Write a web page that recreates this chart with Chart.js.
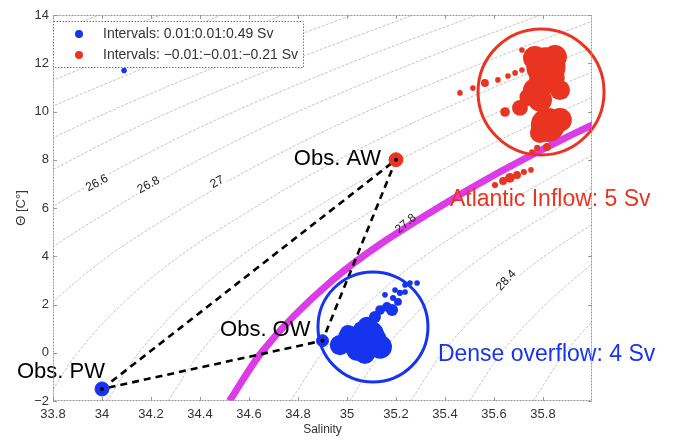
<!DOCTYPE html>
<html>
<head>
<meta charset="utf-8">
<script src="https://cdn.jsdelivr.net/npm/chart.js@4.4.0/dist/chart.umd.min.js"></script>
<style>
  body { margin: 0; background: #fff; }
  #wrap { width: 680px; height: 440px; }
</style>
</head>
<body>
<div id="wrap"><canvas id="tsChart"></canvas></div>
<script>
// axis ticks
const salTicks = [33.8, 34, 34.2, 34.4, 34.6, 34.8, 35, 35.2, 35.4, 35.6, 35.8];
const tempTicks = [-2, 0, 2, 4, 6, 8, 10, 12, 14];

// isopycnals (sigma-theta), salinity read at each temperature
const isoTemps = [-2, 0, 3, 6, 9, 12, 14];
const isoLevels = [25.4, 25.6, 25.8, 26.0, 26.2, 26.4, 26.6, 26.8, 27.0, 27.2, 27.4, 27.6, 27.8, 28.0, 28.2, 28.4, 28.6, 28.8];
const isoSal = [
  [31.40, 31.53, 31.82, 32.25, 32.79, 33.47, 33.99],
  [31.65, 31.78, 32.07, 32.50, 33.04, 33.72, 34.24],
  [31.90, 32.03, 32.32, 32.75, 33.29, 33.97, 34.49],
  [32.15, 32.28, 32.57, 33.00, 33.54, 34.22, 34.74],
  [32.43, 32.56, 32.85, 33.28, 33.82, 34.50, 35.02],
  [32.68, 32.81, 33.10, 33.53, 34.07, 34.75, 35.27],
  [32.94, 33.07, 33.36, 33.79, 34.33, 35.01, 35.53],
  [33.20, 33.33, 33.62, 34.05, 34.59, 35.27, 35.79],
  [33.48, 33.61, 33.90, 34.33, 34.87, 35.55, 36.07],
  [33.77, 33.90, 34.19, 34.62, 35.16, 35.84, 36.36],
  [34.02, 34.15, 34.44, 34.87, 35.41, 36.09, 36.61],
  [34.27, 34.40, 34.69, 35.12, 35.66, 36.34, 36.86],
  [34.52, 34.65, 34.94, 35.37, 35.91, 36.59, 37.11],
  [34.77, 34.90, 35.19, 35.62, 36.16, 36.84, 37.36],
  [35.01, 35.14, 35.43, 35.86, 36.40, 37.08, 37.60],
  [35.26, 35.39, 35.68, 36.11, 36.65, 37.33, 37.85],
  [35.50, 35.63, 35.92, 36.35, 36.89, 37.57, 38.09],
  [35.76, 35.89, 36.18, 36.61, 37.15, 37.83, 38.35]
];
const highlightLevel = 27.8;

// labelled contours
const isoLabelText = ["26.6", "26.8", "27", "27.8", "28.4"];
const isoLabelSal = [33.98, 34.19, 34.47, 35.24, 35.65];
const isoLabelTemp = [7.03, 6.95, 7.07, 5.35, 3.0];

// observed end members
const obsNames = ["Obs. PW", "Obs. OW", "Obs. AW"];
const obsSal = [34.0, 34.9, 35.2];
const obsTemp = [-1.5, 0.5, 8.0];

// positive transports (dense overflow)
const blueSal = [34.971, 35.061, 35.041, 35.135, 35.082, 35.004, 35.114, 35.135, 35.163, 35.184, 35.208,
  35.188, 35.216, 35.237, 35.257, 35.286, 35.155, 35.196, 35.237, 35.102, 35.053, 34.09,
  35.012, 35.094, 35.073, 35.110];
const blueTemp = [0.32, 0.41, 0.12, 0.24, 1.07, 0.82, 1.48, 1.77, 1.90, 1.77, 2.11,
  2.27, 2.48, 2.52, 2.89, 2.89, 2.40, 2.60, 2.81, 1.28, 1.03, 11.7,
  0.62, 0.75, -0.05, 0.55];
const blueSv = [0.13, 0.41, 0.15, 0.18, 0.13, 0.08, 0.046, 0.03, 0.03, 0.046, 0.02,
  0.012, 0.012, 0.01, 0.01, 0.01, 0.01, 0.01, 0.01, 0.03, 0.05, 0.01,
  0.18, 0.25, 0.13, 0.2];

// negative transports (Atlantic inflow)
const redSal = [35.812, 35.849, 35.767, 35.788, 35.706, 35.645, 35.869, 35.767, 35.820, 35.869, 35.788,
  35.461, 35.514, 35.563, 35.616, 35.657, 35.686, 35.714, 35.714,
  35.776, 35.816, 35.755,
  35.604, 35.637, 35.665, 35.694, 35.722, 35.751,
  35.800, 35.840, 35.740];
const redTemp = [11.85, 12.26, 12.22, 10.48, 10.15, 9.98, 10.89, 10.89, 9.44, 9.65, 9.11,
  10.77, 10.97, 11.18, 11.31, 11.47, 11.60, 11.72, 12.55,
  8.49, 8.53, 8.32,
  6.95, 7.12, 7.25, 7.37, 7.49, 7.58,
  11.25, 11.40, 10.60];
const redSv = [-0.49, -0.18, -0.18, -0.18, -0.08, -0.03, -0.13, -0.18, -0.37, -0.18, -0.13,
  -0.01, -0.01, -0.02, -0.01, -0.01, -0.01, -0.01, -0.01,
  -0.012, -0.02, -0.01,
  -0.012, -0.02, -0.03, -0.02, -0.012, -0.01,
  -0.25, -0.18, -0.1];

// water mass rings (centres)
const overflowRing = [35.106, 1.07];
const inflowRing = [35.792, 10.81];

const BLUE = "#1634f0";
const RED = "#ea3422";
const MAGENTA = "#dc3ce6";
const FONT = "'Liberation Sans', Arial, sans-serif";

const toPts = (xs, ys) => xs.map((v, i) => ({ x: v, y: ys[i] }));
const svRadius = (v) => 28 * Math.sqrt(Math.abs(v));

const datasets = [];

// observation markers on top
datasets.push({
  data: toPts(obsSal, obsTemp),
  pointRadius: [7, 6, 7],
  pointBackgroundColor: [BLUE, BLUE, RED],
  pointBorderColor: [BLUE, BLUE, RED],
  order: 1
});
datasets.push({
  data: toPts(obsSal, obsTemp),
  pointRadius: 2,
  pointBackgroundColor: "#000",
  pointBorderWidth: 0,
  order: 0
});

// rings
datasets.push({
  data: [{ x: overflowRing[0], y: overflowRing[1] }],
  pointRadius: 55,
  pointBackgroundColor: "rgba(0,0,0,0)",
  pointBorderColor: BLUE,
  pointBorderWidth: 3,
  clip: false,
  order: 3
});
datasets.push({
  data: [{ x: inflowRing[0], y: inflowRing[1] }],
  pointRadius: 63,
  pointBackgroundColor: "rgba(0,0,0,0)",
  pointBorderColor: RED,
  pointBorderWidth: 3,
  clip: false,
  order: 3
});

// transport clusters
datasets.push({
  data: toPts(blueSal, blueTemp),
  pointRadius: blueSv.map(svRadius),
  pointBackgroundColor: BLUE,
  pointBorderWidth: 0,
  order: 4
});
datasets.push({
  data: toPts(redSal, redTemp),
  pointRadius: redSv.map(svRadius),
  pointBackgroundColor: RED,
  pointBorderWidth: 0,
  clip: false,
  order: 4
});

// mixing triangle
const triIdx = [0, 2, 1, 0];
datasets.push({
  data: triIdx.map(i => ({ x: obsSal[i], y: obsTemp[i] })),
  showLine: true,
  borderColor: "#000",
  borderWidth: 2.6,
  borderDash: [7, 5],
  pointRadius: 0,
  order: 6
});

// isopycnals
isoLevels.forEach((lev, k) => {
  const hl = lev === highlightLevel;
  datasets.push({
    data: toPts(isoSal[k], isoTemps),
    showLine: true,
    borderColor: hl ? MAGENTA : "rgba(150,150,150,0.8)",
    borderWidth: hl ? 7 : 0.7,
    borderDash: hl ? [] : [3, 1.5],
    cubicInterpolationMode: "monotone",
    pointRadius: 0,
    order: hl ? 8 : 10
  });
});

function dataXY(chart, s, t) {
  return [chart.scales.x.getPixelForValue(s), chart.scales.y.getPixelForValue(t)];
}

const overlay = {
  id: "overlay",
  afterDatasetsDraw(chart) {
    const ctx = chart.ctx;
    ctx.save();

    // contour labels
    const angles = [-28, -28, -28, -40, -47];
    ctx.font = "12px " + FONT;
    ctx.textAlign = "center";
    ctx.textBaseline = "middle";
    isoLabelText.forEach((txt, i) => {
      const [px, py] = dataXY(chart, isoLabelSal[i], isoLabelTemp[i]);
      ctx.save();
      ctx.translate(px, py);
      ctx.rotate(angles[i] * Math.PI / 180);
      if (txt !== "27.8") {
        const w = ctx.measureText(txt).width;
        ctx.fillStyle = "#fff";
        ctx.fillRect(-w / 2 - 2, -6, w + 4, 12);
      }
      ctx.fillStyle = "#222";
      ctx.fillText(txt, 0, 0);
      ctx.restore();
    });

    // observation labels
    ctx.font = "22px " + FONT;
    ctx.fillStyle = "#000";
    ctx.textAlign = "right";
    const offs = [[3, -17], [-12, -11], [-15, -1]];
    obsNames.forEach((name, i) => {
      const [px, py] = dataXY(chart, obsSal[i], obsTemp[i]);
      ctx.fillText(name, px + offs[i][0], py + offs[i][1]);
    });

    // water mass annotations
    ctx.font = "23px " + FONT;
    ctx.textAlign = "left";
    let [ax, ay] = dataXY(chart, 35.42, 6.33);
    ctx.fillStyle = RED;
    ctx.fillText("Atlantic Inflow: 5 Sv", ax, ay);
    [ax, ay] = dataXY(chart, 35.371, -0.09);
    ctx.fillStyle = BLUE;
    ctx.fillText("Dense overflow: 4 Sv", ax, ay);
    ctx.restore();
  },
  afterDraw(chart) {
    const ctx = chart.ctx;
    const a = chart.chartArea;
    ctx.save();
    // axes box with inward ticks
    ctx.strokeStyle = "#999";
    ctx.lineWidth = 1;
    ctx.setLineDash([2, 1]);
    ctx.strokeRect(a.left + 0.5, a.top + 0.5, a.right - a.left - 1, a.bottom - a.top - 1);
    ctx.setLineDash([]);
    ctx.beginPath();
    salTicks.forEach(v => {
      const px = Math.round(chart.scales.x.getPixelForValue(v)) + 0.5;
      ctx.moveTo(px, a.bottom); ctx.lineTo(px, a.bottom - 4);
      ctx.moveTo(px, a.top); ctx.lineTo(px, a.top + 4);
    });
    tempTicks.forEach(v => {
      const py = Math.round(chart.scales.y.getPixelForValue(v)) + 0.5;
      ctx.moveTo(a.left, py); ctx.lineTo(a.left + 4, py);
      ctx.moveTo(a.right, py); ctx.lineTo(a.right - 4, py);
    });
    ctx.stroke();

    // legend
    const lx = a.left, ly = 21, lw = 250, lh = 46;
    ctx.fillStyle = "#fff";
    ctx.fillRect(lx, ly, lw, lh);
    ctx.setLineDash([1.5, 1.5]);
    ctx.strokeStyle = "#777";
    ctx.strokeRect(lx + 0.5, ly + 0.5, lw, lh);
    ctx.setLineDash([]);
    const items = [
      [BLUE, "Intervals: 0.01:0.01:0.49 Sv"],
      [RED, "Intervals: \u22120.01:\u22120.01:\u22120.21 Sv"]
    ];
    ctx.font = "14px " + FONT;
    ctx.textBaseline = "middle";
    ctx.textAlign = "left";
    items.forEach((it, i) => {
      const cy = ly + 13 + i * 21;
      ctx.fillStyle = it[0];
      ctx.beginPath();
      ctx.arc(lx + 26, cy, 4, 0, Math.PI * 2);
      ctx.fill();
      ctx.fillStyle = "#333";
      ctx.fillText(it[1], lx + 50, cy);
    });
    ctx.restore();
  }
};

const fmt = (v) => {
  const s = String(Math.round(v * 10) / 10);
  return s.replace("-", "\u2212");
};

new Chart(document.getElementById("tsChart"), {
  type: "scatter",
  data: { datasets },
  options: {
    responsive: true,
    maintainAspectRatio: false,
    animation: false,
    layout: { autoPadding: false, padding: { left: 0, right: 88, top: 15, bottom: 0 } },
    plugins: { legend: { display: false }, tooltip: { enabled: false } },
    scales: {
      x: {
        type: "linear",
        min: 33.8,
        max: 36.0,
        afterBuildTicks: (s) => { s.ticks = salTicks.map(v => ({ value: v })); },
        afterFit: (s) => { s.height = 39; },
        grid: { display: false, drawTicks: false },
        border: { display: false },
        ticks: { autoSkip: false, maxRotation: 0, padding: 6, color: "#333",
          font: { family: FONT, size: 13 }, callback: fmt },
        title: { display: true, text: "Salinity", color: "#333",
          font: { family: FONT, size: 12 }, padding: { top: 0, bottom: 3 } }
      },
      y: {
        type: "linear",
        min: -2,
        max: 14,
        afterBuildTicks: (s) => { s.ticks = tempTicks.map(v => ({ value: v })); },
        afterFit: (s) => { s.width = 53; },
        grid: { display: false, drawTicks: false },
        border: { display: false },
        ticks: { autoSkip: false, padding: 4, color: "#333",
          font: { family: FONT, size: 13 }, callback: fmt },
        title: { display: true, text: "\u0398 [C\u00b0]", color: "#333",
          font: { family: FONT, size: 13 }, padding: { top: 14, bottom: 0 } }
      }
    }
  },
  plugins: [overlay]
});
</script>
</body>
</html>
